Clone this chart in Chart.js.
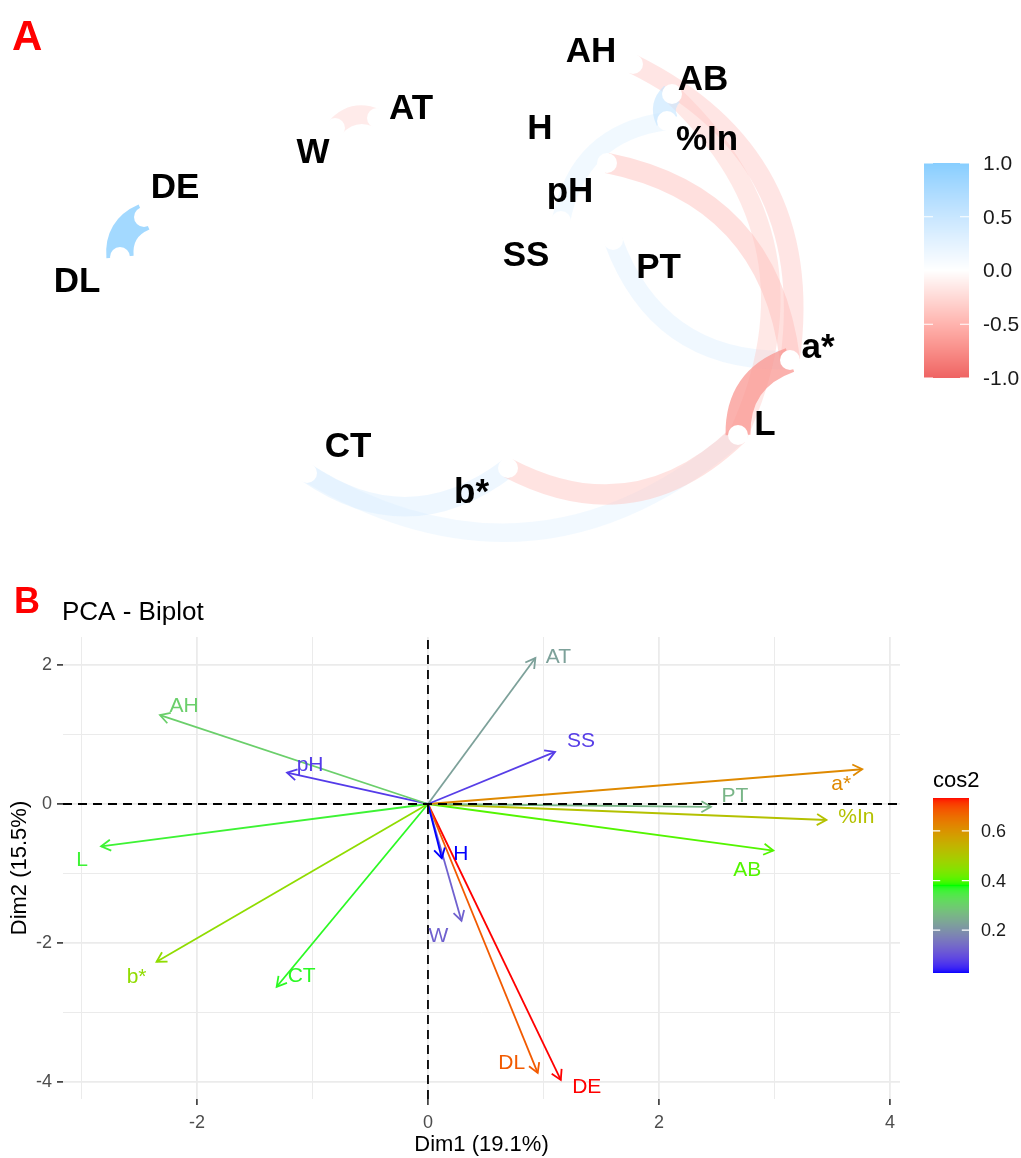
<!DOCTYPE html>
<html>
<head>
<meta charset="utf-8">
<script src="https://cdn.jsdelivr.net/npm/chart.js@4.4.1/dist/chart.umd.min.js"></script>
<style>
  html, body { margin: 0; padding: 0; background: #ffffff; }
  body { width: 1021px; height: 1158px; position: relative; overflow: hidden; }
  canvas { position: absolute; left: 0; display: block; }
  #netChart { top: 0; }
  #pcaChart { top: 560px; }
</style>
</head>
<body>
<canvas id="netChart" width="1021" height="560"></canvas>
<canvas id="pcaChart" width="1021" height="598"></canvas>
<script>
// ---------------- Panel A: correlation network ----------------
// node layout (multidimensional scaling coordinates)
const netVars = ['DE', 'DL', 'W', 'AT', 'AH', 'AB', 'H', '%In', 'pH', 'SS', 'PT', 'a*', 'L', 'CT', 'b*'];
const netX = [-1.530, -1.650, -0.575, -0.365, 0.915, 1.110, 0.510, 1.085, 0.785, 0.555, 0.815, 1.700, 1.440, -0.715, 0.290];
const netY = [0.265, 0.065, 0.710, 0.760, 1.030, 0.880, 0.635, 0.745, 0.535, 0.245, 0.150, -0.450, -0.825, -1.015, -0.990];
// correlations shown as paths (|r| >= 0.3)
const edgeFrom = ['DL', 'W', '%In', 'AH', 'AB', 'pH', 'SS', 'a*', 'L', 'L', 'b*', 'L'];
const edgeTo = ['DE', 'AT', 'AB', 'a*', 'L', 'a*', '%In', 'PT', 'a*', 'b*', 'CT', 'CT'];
const edgeR = [0.88, -0.33, 0.55, -0.38, -0.36, -0.42, 0.32, 0.34, -0.70, -0.40, 0.36, 0.31];
const netLegendTicks = [1.0, 0.5, 0.0, -0.5, -1.0];

// ---------------- Panel B: PCA biplot ----------------
const pcaVars = ['AT', 'SS', 'a*', 'PT', '%In', 'AB', 'H', 'AH', 'pH', 'L', 'b*', 'CT', 'W', 'DL', 'DE'];
const dim1 = [0.93, 1.10, 3.76, 2.45, 3.45, 2.99, 0.12, -2.32, -1.22, -2.83, -2.35, -1.31, 0.29, 0.95, 1.15];
const dim2 = [2.10, 0.75, 0.50, -0.04, -0.23, -0.67, -0.78, 1.28, 0.45, -0.61, -2.27, -2.63, -1.68, -3.87, -3.97];
const cos2 = [0.226, 0.076, 0.617, 0.258, 0.513, 0.403, 0.027, 0.301, 0.072, 0.360, 0.458, 0.370, 0.125, 0.681, 0.733];
const dim1Ticks = [-3, -2, -1, 0, 1, 2, 3, 4];
const dim2Ticks = [-4, -3, -2, -1, 0, 1, 2];
const dim1Labeled = [-2, 0, 2, 4];
const dim2Labeled = [-4, -2, 0, 2];
const cos2LegendTicks = [0.6, 0.4, 0.2];

const FONT = "'Liberation Sans', Arial, Helvetica, sans-serif";
Chart.defaults.font.family = FONT;

// ---------- colour ramps interpolated in CIELAB ----------
function toLin(c) { c /= 255; return c <= 0.04045 ? c / 12.92 : Math.pow((c + 0.055) / 1.055, 2.4); }
function fromLin(v) {
  v = v <= 0.0031308 ? 12.92 * v : 1.055 * Math.pow(Math.max(v, 0), 1 / 2.4) - 0.055;
  return Math.round(Math.max(0, Math.min(1, v)) * 255);
}
const WX = 0.95047, WY = 1.0, WZ = 1.08883;
function rgb2lab(c) {
  const r = toLin(c[0]), g = toLin(c[1]), b = toLin(c[2]);
  const X = (0.4124564 * r + 0.3575761 * g + 0.1804375 * b) / WX;
  const Y = (0.2126729 * r + 0.7151522 * g + 0.0721750 * b) / WY;
  const Z = (0.0193339 * r + 0.1191920 * g + 0.9503041 * b) / WZ;
  const f = t => t > 216 / 24389 ? Math.cbrt(t) : (24389 / 27 * t + 16) / 116;
  const fx = f(X), fy = f(Y), fz = f(Z);
  return [116 * fy - 16, 500 * (fx - fy), 200 * (fy - fz)];
}
function lab2rgb(l) {
  const fy = (l[0] + 16) / 116, fx = fy + l[1] / 500, fz = fy - l[2] / 200;
  const finv = t => { const t3 = t * t * t; return t3 > 216 / 24389 ? t3 : (116 * t - 16) / (24389 / 27); };
  const X = finv(fx) * WX, Y = finv(fy) * WY, Z = finv(fz) * WZ;
  const r = 3.2404542 * X - 1.5371385 * Y - 0.4985314 * Z;
  const g = -0.9692660 * X + 1.8760108 * Y + 0.0415560 * Z;
  const b = 0.0556434 * X - 0.2040259 * Y + 1.0572252 * Z;
  return [fromLin(r), fromLin(g), fromLin(b)];
}
function ramp(stops) {
  const labs = stops.map(rgb2lab);
  return t => {
    t = Math.max(0, Math.min(1, t));
    const n = labs.length - 1;
    const s = Math.min(n - 1, Math.floor(t * n));
    const u = t * n - s;
    const a = labs[s], b = labs[s + 1];
    return lab2rgb([a[0] + (b[0] - a[0]) * u, a[1] + (b[1] - a[1]) * u, a[2] + (b[2] - a[2]) * u]);
  };
}
const rgbStr = (c, a) => a === undefined ? `rgb(${c[0]},${c[1]},${c[2]})` : `rgba(${c[0]},${c[1]},${c[2]},${a})`;

// indianred2 -> white -> skyblue1 over r in [-1, 1]
const corrRamp = ramp([[238, 99, 99], [255, 255, 255], [135, 206, 255]]);
const corrColor = r => corrRamp((r + 1) / 2);
// blue -> green -> red over the cos2 range
const cosMin = Math.min(...cos2), cosMax = Math.max(...cos2);
const cosRamp = ramp([[0, 0, 255], [0, 255, 0], [255, 0, 0]]);
const cosColor = v => cosRamp((v - cosMin) / (cosMax - cosMin));

// =============== Panel A chart ===============
// label placement around each node (pixels, text cap centre)
const netLabelOffset = {
  'DE': [31, -32], 'DL': [-43, 22], 'W': [-22, 22], 'AT': [34, -12], 'AH': [-42, -15],
  'AB': [31, -17], 'H': [-12, -17], '%In': [40, 16], 'pH': [-37, 26.5], 'SS': [-35, 32.5],
  'PT': [45.5, 25.5], 'a*': [28, -14.5], 'L': [27, -13], 'CT': [41, -28.5], 'b*': [-36.5, 22.5]
};

const netEdgesPlugin = {
  id: 'netEdges',
  beforeDatasetsDraw(chart) {
    const { ctx, scales: { x, y } } = chart;
    const order = edgeR.map((r, i) => i).sort((a, b) => Math.abs(edgeR[a]) - Math.abs(edgeR[b]));
    ctx.save();
    ctx.lineCap = 'butt';
    for (const i of order) {
      const a = netVars.indexOf(edgeFrom[i]), b = netVars.indexOf(edgeTo[i]);
      const x1 = x.getPixelForValue(netX[a]), y1 = y.getPixelForValue(netY[a]);
      const x2 = x.getPixelForValue(netX[b]), y2 = y.getPixelForValue(netY[b]);
      const dx = x2 - x1, dy = y2 - y1;
      // curve bends to the left of the travel direction
      const k = 0.36;
      const cx = (x1 + x2) / 2 + dy * k, cy = (y1 + y2) / 2 - dx * k;
      const p = Math.abs(edgeR[i]);
      ctx.strokeStyle = rgbStr(corrColor(edgeR[i]), 0.1 + 0.9 * p);
      ctx.lineWidth = 4.8 * (1 + 5 * Math.sqrt(p));
      ctx.beginPath();
      ctx.moveTo(x1, y1);
      ctx.quadraticCurveTo(cx, cy, x2, y2);
      ctx.stroke();
    }
    ctx.restore();
  },
  afterDatasetsDraw(chart) {
    const { ctx, scales: { x, y } } = chart;
    ctx.save();
    const fs = 35;
    ctx.font = `bold ${fs}px ${FONT}`;
    ctx.fillStyle = '#000000';
    ctx.textAlign = 'center';
    ctx.textBaseline = 'alphabetic';
    netVars.forEach((v, i) => {
      const off = netLabelOffset[v];
      const px = x.getPixelForValue(netX[i]) + off[0];
      const py = y.getPixelForValue(netY[i]) + off[1] + 0.358 * fs;
      ctx.fillText(v, px, py);
    });
    ctx.restore();
  },
  afterDraw(chart) {
    const ctx = chart.ctx;
    ctx.save();
    // panel tag
    ctx.font = `bold 42px ${FONT}`;
    ctx.fillStyle = '#ff0000';
    ctx.textAlign = 'left';
    ctx.textBaseline = 'alphabetic';
    ctx.fillText('A', 12, 50);
    // colour bar
    const bx = 924, bw = 45, top = 163, bottom = 378;
    const vToY = v => top + (1 - v) / 2 * (bottom - top);
    for (let yy = top; yy < bottom; yy++) {
      const v = 1 - ((yy + 0.5 - top) / (bottom - top)) * 2;
      ctx.fillStyle = rgbStr(corrColor(v));
      ctx.fillRect(bx, yy, bw, 1);
    }
    ctx.strokeStyle = '#ffffff';
    ctx.lineWidth = 1.2;
    ctx.font = `21px ${FONT}`;
    ctx.fillStyle = '#1a1a1a';
    ctx.textBaseline = 'middle';
    netLegendTicks.forEach(v => {
      const ty = vToY(v);
      ctx.beginPath();
      ctx.moveTo(bx, ty); ctx.lineTo(bx + bw / 5, ty);
      ctx.moveTo(bx + bw - bw / 5, ty); ctx.lineTo(bx + bw, ty);
      ctx.stroke();
      ctx.fillText(v.toFixed(1), 983, ty + 1);
    });
    ctx.restore();
  }
};

new Chart(document.getElementById('netChart'), {
  type: 'scatter',
  data: {
    datasets: [{
      label: 'variables',
      data: netVars.map((v, i) => ({ x: netX[i], y: netY[i] })),
      pointRadius: 10,
      pointBackgroundColor: '#ffffff',
      pointBorderWidth: 0,
      pointHoverRadius: 10
    }]
  },
  options: {
    responsive: false,
    animation: false,
    devicePixelRatio: 1,
    layout: { padding: 0, autoPadding: false },
    plugins: { legend: { display: false }, tooltip: { enabled: false } },
    scales: {
      x: { type: 'linear', display: false, min: -2.25, max: 2.855 },
      y: { type: 'linear', display: false, min: -1.45, max: 1.35 }
    }
  },
  plugins: [netEdgesPlugin]
});

// =============== Panel B chart ===============
const X_MIN = -3.16, X_MAX = 4.087, Y_MIN = -4.245, Y_MAX = 2.403;

// text placement at arrow tips (pixels, text cap centre)
const pcaLabelOffset = {
  'AT': [23, -3], 'SS': [26, -12], 'a*': [-21, 13], 'PT': [24, -12], '%In': [30, -4],
  'AB': [-26, 18], 'H': [19, -6], 'AH': [24, -11], 'pH': [23, -9], 'L': [-19, 12],
  'b*': [-20, 14], 'CT': [25, -12], 'W': [-23, 14], 'DL': [-26, -11], 'DE': [26, 6]
};

const arrowSets = pcaVars.map((v, i) => ({
  label: v,
  data: [{ x: 0, y: 0 }, { x: dim1[i], y: dim2[i] }],
  showLine: true,
  borderColor: rgbStr(cosColor(cos2[i])),
  borderWidth: 1.8,
  pointRadius: 0,
  order: 0
}));
const axisSets = [
  { label: 'v0', data: [{ x: 0, y: Y_MIN }, { x: 0, y: Y_MAX }] },
  { label: 'h0', data: [{ x: X_MIN, y: 0 }, { x: X_MAX, y: 0 }] }
].map(d => Object.assign(d, {
  showLine: true, borderColor: '#000000', borderWidth: 1.8, borderDash: [9, 6],
  pointRadius: 0, order: -1
}));

const pcaPlugin = {
  id: 'pcaDecor',
  afterDatasetsDraw(chart) {
    const { ctx, scales: { x, y } } = chart;
    ctx.save();
    const ox = x.getPixelForValue(0), oy = y.getPixelForValue(0);
    const fs = 21;
    ctx.font = `${fs}px ${FONT}`;
    ctx.textAlign = 'center';
    ctx.textBaseline = 'alphabetic';
    ctx.lineWidth = 1.8;
    pcaVars.forEach((v, i) => {
      const col = rgbStr(cosColor(cos2[i]));
      const tx = x.getPixelForValue(dim1[i]), ty = y.getPixelForValue(dim2[i]);
      const ang = Math.atan2(ty - oy, tx - ox);
      const len = 11, spread = Math.PI / 6;
      ctx.strokeStyle = col;
      ctx.beginPath();
      ctx.moveTo(tx - len * Math.cos(ang - spread), ty - len * Math.sin(ang - spread));
      ctx.lineTo(tx, ty);
      ctx.lineTo(tx - len * Math.cos(ang + spread), ty - len * Math.sin(ang + spread));
      ctx.stroke();
      const off = pcaLabelOffset[v];
      ctx.fillStyle = col;
      ctx.fillText(v, tx + off[0], ty + off[1] + 0.358 * fs);
    });
    ctx.restore();
  },
  afterDraw(chart) {
    const ctx = chart.ctx;
    ctx.save();
    ctx.textAlign = 'left';
    ctx.textBaseline = 'alphabetic';
    ctx.font = `bold 36px ${FONT}`;
    ctx.fillStyle = '#ff0000';
    ctx.fillText('B', 14, 53);
    ctx.font = `26px ${FONT}`;
    ctx.fillStyle = '#000000';
    ctx.fillText('PCA - Biplot', 62, 60);
    // cos2 colour bar
    const bx = 933, bw = 36, top = 238, bottom = 413;
    const vToY = v => bottom - (v - cosMin) / (cosMax - cosMin) * (bottom - top);
    for (let yy = top; yy < bottom; yy++) {
      const v = cosMin + (bottom - (yy + 0.5)) / (bottom - top) * (cosMax - cosMin);
      ctx.fillStyle = rgbStr(cosColor(v));
      ctx.fillRect(bx, yy, bw, 1);
    }
    ctx.font = `22px ${FONT}`;
    ctx.fillStyle = '#000000';
    ctx.fillText('cos2', 933, 227);
    ctx.strokeStyle = '#ffffff';
    ctx.lineWidth = 1.2;
    ctx.font = `18px ${FONT}`;
    ctx.fillStyle = '#1a1a1a';
    ctx.textBaseline = 'middle';
    cos2LegendTicks.forEach(v => {
      const ty = vToY(v);
      ctx.beginPath();
      ctx.moveTo(bx, ty); ctx.lineTo(bx + bw / 5, ty);
      ctx.moveTo(bx + bw - bw / 5, ty); ctx.lineTo(bx + bw, ty);
      ctx.stroke();
      ctx.fillText(v.toFixed(1), 981, ty + 1);
    });
    ctx.restore();
  }
};

const gridOpts = (labeled) => ({
  color: '#EBEBEB',
  lineWidth: c => (c.tick && labeled.includes(c.tick.value)) ? 1.8 : 1,
  tickColor: c => (c.tick && labeled.includes(c.tick.value)) ? '#333333' : 'rgba(0,0,0,0)',
  tickWidth: 1.6,
  tickLength: 6,
  drawTicks: true
});

new Chart(document.getElementById('pcaChart'), {
  type: 'scatter',
  data: { datasets: [...axisSets, ...arrowSets] },
  options: {
    responsive: false,
    animation: false,
    devicePixelRatio: 1,
    layout: { padding: { left: 0, right: 121, top: 77, bottom: 0 }, autoPadding: false },
    plugins: { legend: { display: false }, tooltip: { enabled: false }, title: { display: false } },
    scales: {
      x: {
        type: 'linear', position: 'bottom', min: X_MIN, max: X_MAX, bounds: 'data',
        afterBuildTicks: s => { s.ticks = dim1Ticks.map(v => ({ value: v })); },
        afterFit: s => { s.height = 59; },
        ticks: {
          autoSkip: false, maxRotation: 0, minRotation: 0, padding: 7,
          color: '#4D4D4D', font: { family: FONT, size: 18 },
          callback: v => dim1Labeled.includes(v) ? String(v) : ''
        },
        grid: gridOpts(dim1Labeled),
        border: { display: false },
        title: { display: true, text: 'Dim1 (19.1%)', color: '#000000', font: { family: FONT, size: 22 }, padding: { top: 0, bottom: 0 } }
      },
      y: {
        type: 'linear', position: 'left', min: Y_MIN, max: Y_MAX, bounds: 'data',
        afterBuildTicks: s => { s.ticks = dim2Ticks.map(v => ({ value: v })); },
        afterFit: s => { s.width = 63; },
        ticks: {
          autoSkip: false, padding: 5,
          color: '#4D4D4D', font: { family: FONT, size: 18 },
          callback: v => dim2Labeled.includes(v) ? String(v) : ''
        },
        grid: gridOpts(dim2Labeled),
        border: { display: false },
        title: { display: true, text: 'Dim2 (15.5%)', color: '#000000', font: { family: FONT, size: 22 }, padding: { top: 7, bottom: 0 } }
      }
    }
  },
  plugins: [pcaPlugin]
});
</script>
</body>
</html>
